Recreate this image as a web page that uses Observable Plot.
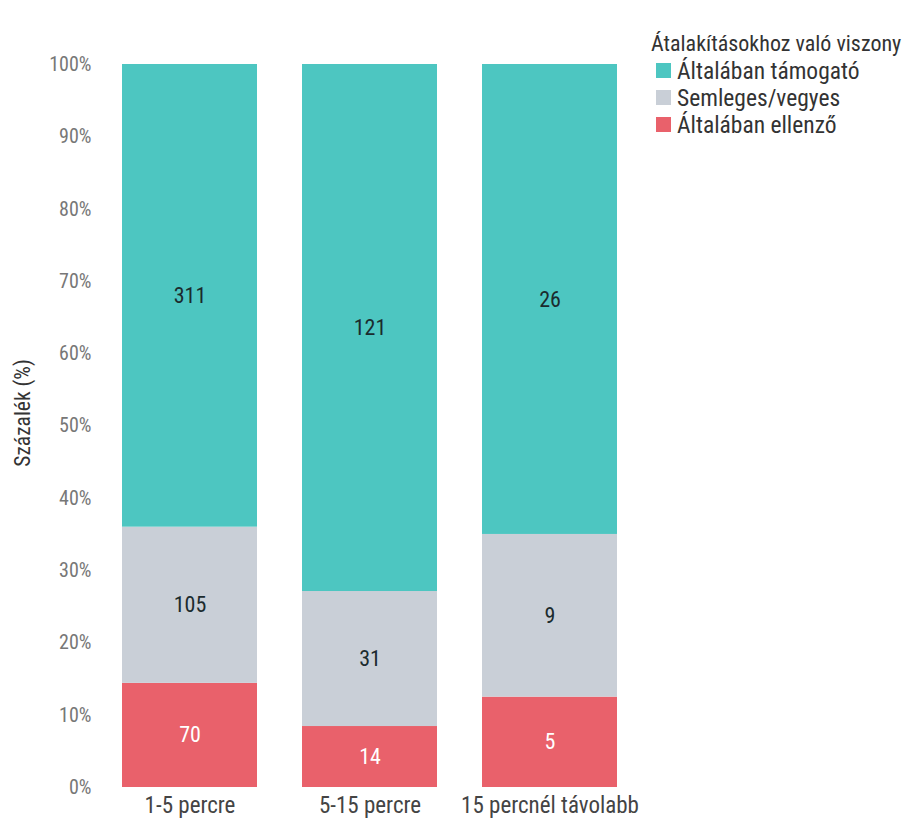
<!DOCTYPE html>
<html>
<head>
<meta charset="utf-8">
<script src="https://cdn.jsdelivr.net/npm/d3@7"></script>
<script src="https://cdn.jsdelivr.net/npm/@observablehq/plot@0.6"></script>
<style>
  html, body { margin: 0; padding: 0; background: #fff; }
  body { width: 908px; height: 820px; position: relative; overflow: hidden;
         font-family: "Roboto Condensed", "Liberation Sans Narrow", "DejaVu Sans Condensed", Roboto, sans-serif; }
  #legend { position: absolute; left: 651px; top: 31px; color: #333; }
  #legend .title { font-size: 22px; line-height: 26px; }
  #legend .item { display: flex; align-items: center; height: 27px; font-size: 23.5px; color: #333; }
  #legend .sw { width: 15px; height: 15px; margin: 0 6px 0 5px; flex: none; }
</style>
</head>
<body>
<div id="chart"></div>
<div id="legend"></div>
<script>
const categories = ["1-5 percre", "5-15 percre", "15 percnél távolabb"];
const seriesNames = ["Általában támogató", "Semleges/vegyes", "Általában ellenző"];
const tamogato = [311, 121, 26];
const semleges = [105, 31, 9];
const ellenzo = [70, 14, 5];
const yTicks = [0, 0.1, 0.2, 0.3, 0.4, 0.5, 0.6, 0.7, 0.8, 0.9, 1];
const colors = ["#4dc6c1", "#c9cfd7", "#e9616b"];
const legendTitle = "Átalakításokhoz való viszony";
const yLabel = "Százalék (%)";

const seriesValues = [tamogato, semleges, ellenzo];
const stackOrder = [seriesNames[2], seriesNames[1], seriesNames[0]];
const rows = [];
for (const s of stackOrder) {
  const i = seriesNames.indexOf(s);
  categories.forEach((c, j) => rows.push({cat: c, series: s, value: seriesValues[i][j]}));
}

const font = '"Roboto Condensed", "Liberation Sans Narrow", "DejaVu Sans Condensed", Roboto, sans-serif';

const plot = Plot.plot({
  width: 908,
  height: 820,
  marginTop: 64,
  marginBottom: 33,
  marginLeft: 103,
  marginRight: 272,
  style: {fontFamily: font, background: "#fff"},
  x: {domain: categories, paddingInner: 0.25, paddingOuter: 0.1, label: null},
  y: {domain: [0, 1], ticks: yTicks, tickFormat: d3.format(".0%"), label: null},
  color: {domain: seriesNames, range: colors},
  marks: [
    Plot.gridY(yTicks, {stroke: "#eeeeee", strokeOpacity: 1, x1: 103, x2: 640}),
    Plot.barY(rows, Plot.stackY({offset: "normalize", order: stackOrder, x: "cat", y: "value", fill: "series"})),
    Plot.text(rows, Plot.stackY({offset: "normalize", order: stackOrder, x: "cat", y: "value", z: "series",
      text: d => String(d.value),
      fill: d => d.series === seriesNames[2] ? "#ffffff" : "#1b2b2e",
      fontSize: 22})),
    Plot.axisY({ticks: yTicks, tickFormat: d3.format(".0%"), tickSize: 0, tickPadding: 12, fontSize: 20, color: "#777", label: null}),
    Plot.axisX({tickSize: 0, tickPadding: 9, fontSize: 23, color: "#444", label: null}),
    Plot.text([yLabel], {frameAnchor: "left", textAnchor: "middle", dx: -80, dy: -13, rotate: -90, text: d => d, fontSize: 21.5, fill: "#333"})
  ]
});
document.getElementById("chart").appendChild(plot);

const legend = document.getElementById("legend");
const t = document.createElement("div");
t.className = "title";
t.textContent = legendTitle;
legend.appendChild(t);
seriesNames.forEach((s, i) => {
  const it = document.createElement("div");
  it.className = "item";
  const sw = document.createElement("span");
  sw.className = "sw";
  sw.style.background = colors[i];
  const lb = document.createElement("span");
  lb.textContent = s;
  it.appendChild(sw);
  it.appendChild(lb);
  legend.appendChild(it);
});
</script>
</body>
</html>
